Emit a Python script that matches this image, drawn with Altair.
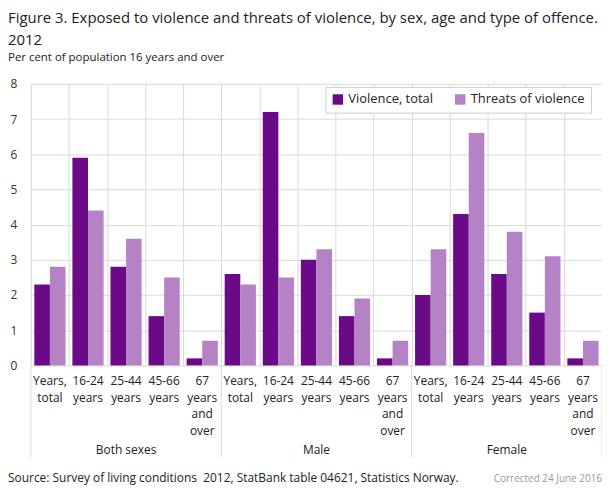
import altair as alt
import pandas as pd

groups = ["Both sexes", "Male", "Female"]
ages = ["Years,\ntotal", "16-24\nyears", "25-44\nyears", "45-66\nyears", "67\nyears\nand\nover"]
series = ["Violence, total", "Threats of violence"]
violence = [2.3, 5.9, 2.8, 1.4, 0.2, 2.6, 7.2, 3.0, 1.4, 0.2, 2.0, 4.3, 2.6, 1.5, 0.2]
threats = [2.8, 4.4, 3.6, 2.5, 0.7, 2.3, 2.5, 3.3, 1.9, 0.7, 3.3, 6.6, 3.8, 3.1, 0.7]
colors = ["#6a0a87", "#b583c5"]

FONT = "Open Sans"
W, H = 574, 283

rows = []
cats = []
for gi, g in enumerate(groups):
    for ai, a in enumerate(ages):
        idx = gi * 5 + ai
        cats.append({"idx": idx, "label": a, "group": g})
        rows.append({"idx": idx, "series": series[0], "value": violence[idx]})
        rows.append({"idx": idx, "series": series[1], "value": threats[idx]})
df = pd.DataFrame(rows)
cat_df = pd.DataFrame(cats)
grp_df = pd.DataFrame({"idx": [2, 7, 12], "group": groups})
sep_start = pd.DataFrame({"idx": [0, 5, 10]})
sep_end = pd.DataFrame({"idx": [14]})

xscale = alt.Scale(domain=list(range(15)), paddingInner=0, paddingOuter=0)

bars = alt.Chart(df).mark_bar().encode(
    x=alt.X("idx:O", scale=xscale,
            axis=alt.Axis(grid=True, tickBand="extent", labels=False, ticks=False,
                          domain=False, title=None, gridColor="#d9d9d9")),
    xOffset=alt.XOffset("series:N", sort=series, scale=alt.Scale(paddingOuter=0.22, paddingInner=0)),
    y=alt.Y("value:Q", scale=alt.Scale(domain=[0, 8]),
            axis=alt.Axis(values=list(range(9)), title=None, domain=False, ticks=False,
                          labelPadding=14, labelFontSize=12, labelColor="#333",
                          labelFont=FONT, gridColor="#d9d9d9")),
    color=alt.Color("series:N", sort=series, scale=alt.Scale(domain=series, range=colors),
                    legend=alt.Legend(title=None, orient="none", legendX=296, legendY=3,
                                      direction="horizontal", fillColor="white",
                                      strokeColor="#cccccc", padding=6, symbolType="square",
                                      symbolSize=110, symbolStrokeWidth=0,
                                      labelFontSize=13, labelFont=FONT, labelColor="#222",
                                      columnPadding=20)),
)

cat_text = alt.Chart(cat_df).mark_text(
    baseline="top", align="center", lineBreak="\n", fontSize=12, lineHeight=16.5,
    font=FONT, color="#222"
).encode(x=alt.X("idx:O", scale=xscale), y=alt.value(H + 11), text="label:N")

grp_text = alt.Chart(grp_df).mark_text(
    baseline="alphabetic", align="center", fontSize=12, font=FONT, color="#222"
).encode(x=alt.X("idx:O", scale=xscale), y=alt.value(H + 89), text="group:N")

sep1 = alt.Chart(sep_start).mark_rule(color="#d9d9d9").encode(
    x=alt.X("idx:O", scale=xscale, bandPosition=0), y=alt.value(H), y2=alt.value(H + 92))
sep2 = alt.Chart(sep_end).mark_rule(color="#d9d9d9").encode(
    x=alt.X("idx:O", scale=xscale, bandPosition=1), y=alt.value(H), y2=alt.value(H + 92))

src_df = pd.DataFrame({"t": ["Source: Survey of living conditions\u00a0 2012, StatBank table 04621, Statistics Norway."]})
cor_df = pd.DataFrame({"t": ["Corrected 24 June 2016"]})
src = alt.Chart(src_df).mark_text(align="left", baseline="alphabetic", fontSize=12,
                                  font=FONT, color="#222").encode(
    x=alt.value(-23), y=alt.value(H + 117), text="t:N")
cor = alt.Chart(cor_df).mark_text(align="right", baseline="alphabetic", fontSize=10,
                                  font=FONT, color="#999").encode(
    x=alt.value(W), y=alt.value(H + 117), text="t:N")

chart = alt.layer(bars, sep1, sep2, cat_text, grp_text, src, cor).properties(
    width=W, height=H,
    autosize=alt.AutoSizeParams(type="none"),
    padding={"left": 23, "top": 75, "right": 0, "bottom": 121},
    title=alt.Title(
        text=["Figure 3. Exposed to violence and threats of violence, by sex, age and type of offence.", "2012"],
        subtitle="Per cent of population 16 years and over",
        anchor="start", frame="group", dx=-23, fontSize=15, lineHeight=22,
        font=FONT, fontWeight="normal", color="#222",
        subtitleFont=FONT, subtitleFontSize=11.5, subtitleColor="#222",
        subtitlePadding=5, offset=14,
    ),
).configure_view(stroke=None)

chart.save("out.html", embed_options={"renderer": "svg", "actions": False})
